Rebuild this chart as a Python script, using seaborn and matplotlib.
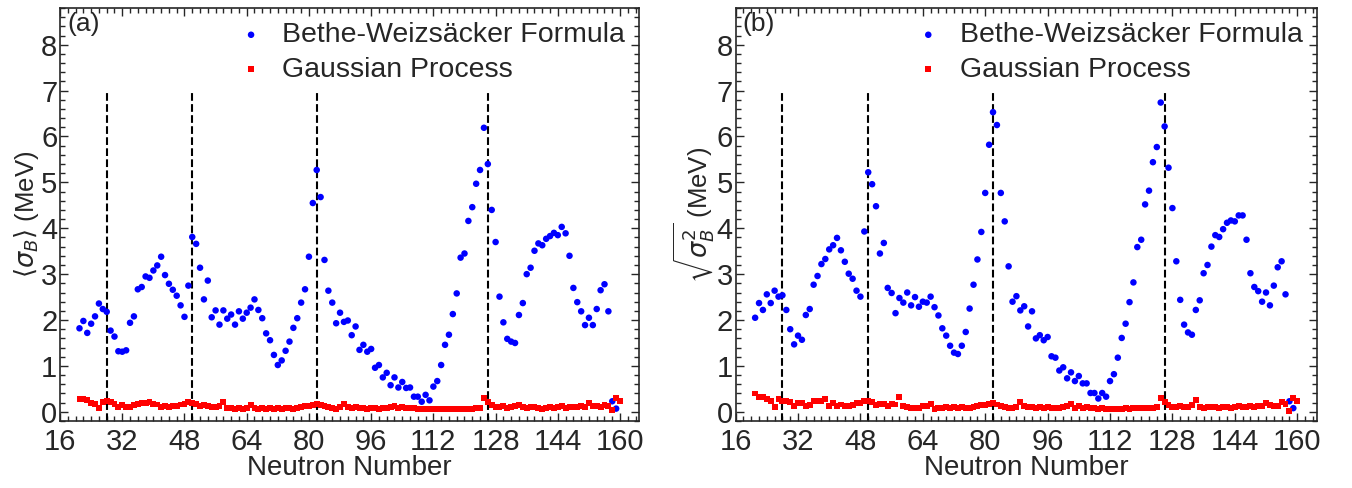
import numpy as np
import pandas as pd
import matplotlib
matplotlib.use('Agg')
import matplotlib.pyplot as plt
import seaborn as sns
from matplotlib.ticker import MultipleLocator

# === DATA ===
N_BW = np.arange(21, 160)
N_GP = np.arange(21, 161)
MAGIC = [28, 50, 82, 126]

BW_MEAN = [1.82, 1.98, 1.72, 1.92, 2.08, 2.36, 2.24, 2.18, 1.77, 1.64,
           1.32, 1.31, 1.34, 1.94, 2.08, 2.67, 2.72, 2.95, 2.92, 3.08,
           3.19, 3.38, 2.98, 2.79, 2.66, 2.53, 2.32, 2.07, 2.75, 3.81,
           3.66, 3.14, 2.45, 2.86, 2.06, 2.21, 1.90, 2.21, 2.03, 2.12,
           1.90, 2.19, 2.03, 2.16, 2.27, 2.45, 2.22, 2.04, 1.71, 1.56,
           1.24, 1.02, 1.12, 1.33, 1.53, 1.83, 2.04, 2.38, 2.67, 3.38,
           4.55, 5.27, 4.68, 3.31, 2.64, 2.38, 1.93, 2.16, 1.96, 1.99,
           1.67, 1.86, 1.35, 1.46, 1.31, 1.37, 0.96, 1.02, 0.75, 0.85,
           0.58, 0.75, 0.53, 0.65, 0.52, 0.53, 0.33, 0.33, 0.22, 0.37,
           0.25, 0.55, 0.67, 1.02, 1.46, 1.68, 2.13, 2.58, 3.36, 3.45,
           4.16, 4.46, 4.97, 5.27, 6.19, 5.40, 4.40, 3.70, 2.51, 1.95,
           1.59, 1.53, 1.50, 2.11, 2.37, 3.00, 3.14, 3.51, 3.67, 3.63,
           3.77, 3.83, 3.90, 3.85, 4.03, 3.89, 3.40, 2.70, 2.39, 2.19,
           1.89, 2.05, 1.89, 2.24, 2.65, 2.78, 2.19, 0.23, 0.07]

GP_MEAN = [0.27, 0.28, 0.25, 0.19, 0.18, 0.09, 0.22, 0.23, 0.21, 0.18,
           0.10, 0.14, 0.11, 0.11, 0.14, 0.18, 0.20, 0.20, 0.21, 0.17,
           0.16, 0.10, 0.12, 0.11, 0.12, 0.13, 0.16, 0.17, 0.21, 0.20,
           0.18, 0.13, 0.15, 0.13, 0.10, 0.10, 0.13, 0.22, 0.08, 0.08,
           0.06, 0.08, 0.07, 0.09, 0.14, 0.08, 0.06, 0.08, 0.07, 0.08,
           0.07, 0.08, 0.07, 0.08, 0.08, 0.07, 0.09, 0.10, 0.12, 0.13,
           0.15, 0.18, 0.15, 0.13, 0.10, 0.08, 0.07, 0.10, 0.17, 0.10,
           0.09, 0.10, 0.08, 0.09, 0.07, 0.09, 0.08, 0.07, 0.08, 0.09,
           0.11, 0.12, 0.08, 0.11, 0.08, 0.09, 0.08, 0.07, 0.06, 0.07,
           0.06, 0.06, 0.06, 0.06, 0.06, 0.06, 0.06, 0.07, 0.06, 0.07,
           0.07, 0.07, 0.08, 0.09, 0.31, 0.21, 0.14, 0.11, 0.11, 0.12,
           0.09, 0.10, 0.13, 0.14, 0.10, 0.09, 0.10, 0.10, 0.09, 0.07,
           0.09, 0.10, 0.08, 0.10, 0.12, 0.09, 0.10, 0.11, 0.10, 0.12,
           0.11, 0.19, 0.13, 0.12, 0.11, 0.15, 0.13, 0.03, 0.30, 0.24]

BW_RMS = [2.05, 2.37, 2.22, 2.56, 2.37, 2.64, 2.51, 2.54, 2.22, 1.80,
          1.47, 1.66, 1.57, 2.11, 2.24, 2.77, 2.96, 3.22, 3.33, 3.54,
          3.63, 3.79, 3.52, 3.27, 3.01, 2.90, 2.64, 2.51, 3.93, 5.22,
          4.96, 4.48, 3.45, 3.68, 2.70, 2.59, 2.15, 2.48, 2.38, 2.60,
          2.32, 2.50, 2.29, 2.40, 2.38, 2.51, 2.28, 2.10, 1.82, 1.66,
          1.44, 1.29, 1.26, 1.44, 1.74, 2.25, 2.77, 3.32, 3.92, 4.77,
          5.82, 6.53, 6.25, 4.77, 4.15, 3.17, 2.40, 2.52, 2.21, 2.30,
          1.86, 2.19, 1.60, 1.67, 1.56, 1.63, 1.21, 1.18, 0.90, 0.97,
          0.73, 0.86, 0.67, 0.78, 0.62, 0.62, 0.41, 0.41, 0.29, 0.41,
          0.33, 0.67, 0.82, 1.18, 1.61, 1.92, 2.39, 2.82, 3.59, 3.75,
          4.52, 4.82, 5.44, 5.77, 6.74, 6.22, 5.32, 4.44, 3.28, 2.44,
          1.90, 1.73, 1.68, 2.22, 2.43, 3.02, 3.20, 3.60, 3.85, 3.81,
          3.98, 4.12, 4.17, 4.15, 4.28, 4.28, 3.75, 3.02, 2.72, 2.63,
          2.40, 2.60, 2.32, 2.75, 3.15, 3.28, 2.56, 0.23, 0.08]

GP_RMS = [0.40, 0.33, 0.32, 0.27, 0.23, 0.11, 0.28, 0.24, 0.23, 0.22,
          0.12, 0.20, 0.19, 0.12, 0.15, 0.24, 0.23, 0.24, 0.28, 0.13,
          0.20, 0.13, 0.16, 0.13, 0.13, 0.14, 0.19, 0.20, 0.24, 0.23,
          0.22, 0.15, 0.18, 0.18, 0.12, 0.18, 0.16, 0.33, 0.12, 0.11,
          0.09, 0.09, 0.09, 0.12, 0.13, 0.18, 0.06, 0.09, 0.08, 0.10,
          0.08, 0.10, 0.09, 0.10, 0.09, 0.08, 0.11, 0.13, 0.15, 0.15,
          0.17, 0.20, 0.16, 0.13, 0.10, 0.09, 0.08, 0.10, 0.22, 0.12,
          0.10, 0.11, 0.09, 0.10, 0.08, 0.10, 0.09, 0.08, 0.09, 0.10,
          0.12, 0.18, 0.09, 0.12, 0.09, 0.10, 0.09, 0.08, 0.07, 0.08,
          0.07, 0.07, 0.07, 0.07, 0.07, 0.08, 0.07, 0.08, 0.08, 0.08,
          0.08, 0.08, 0.09, 0.10, 0.31, 0.21, 0.15, 0.11, 0.11, 0.12,
          0.10, 0.11, 0.14, 0.26, 0.11, 0.09, 0.10, 0.10, 0.10, 0.08,
          0.10, 0.11, 0.09, 0.11, 0.12, 0.10, 0.11, 0.12, 0.10, 0.13,
          0.12, 0.20, 0.14, 0.13, 0.12, 0.22, 0.17, 0.02, 0.31, 0.23]

PANELS = [
    ('(a)', r'$\langle\sigma_B\rangle$ (MeV)', BW_MEAN, GP_MEAN),
    ('(b)', r'$\sqrt{\sigma_B^2}$ (MeV)', BW_RMS, GP_RMS),
]

# === STYLE ===
sns.set_style('ticks')
plt.rcParams['font.family'] = ['Liberation Sans', 'DejaVu Sans']
plt.rcParams['mathtext.fontset'] = 'dejavusans'

fig = plt.figure(figsize=(13.52, 4.88), dpi=100)
axes = [fig.add_axes([0.0444, 0.1373, 0.4286, 0.8463]),
        fig.add_axes([0.5441, 0.1373, 0.4298, 0.8463])]

for ax, (tag, ylab, bw, gp) in zip(axes, PANELS):
    df_bw = pd.DataFrame({'N': N_BW, 'val': bw})
    df_gp = pd.DataFrame({'N': N_GP, 'val': gp})
    sns.scatterplot(data=df_bw, x='N', y='val', ax=ax, color='#0000ff', marker='o',
                    s=22, edgecolor='none', label='Bethe-Weizsäcker Formula', zorder=3)
    sns.scatterplot(data=df_gp, x='N', y='val', ax=ax, color='#ff0000', marker='s',
                    s=18, edgecolor='none', label='Gaussian Process', zorder=4)
    ax.vlines(MAGIC, -0.2, 7.0, colors='k', linestyles='--', lw=1.5, zorder=2)

    ax.set_xlim(16, 165)
    ax.set_ylim(-0.2, 8.8)
    ax.xaxis.set_major_locator(MultipleLocator(16))
    ax.xaxis.set_minor_locator(MultipleLocator(2))
    ax.yaxis.set_major_locator(MultipleLocator(1))
    ax.yaxis.set_minor_locator(MultipleLocator(0.2))
    ax.tick_params(which='both', direction='in', top=True, right=True,
                   labelsize=21, width=1.0, pad=2)
    ax.tick_params(axis='x', which='major', pad=5)
    ax.tick_params(which='major', length=6)
    ax.tick_params(which='minor', length=3.5)
    for sp in ax.spines.values():
        sp.set_linewidth(1.2)

    ax.set_xlabel('Neutron Number', fontsize=20, labelpad=-1)
    ax.set_ylabel(ylab, fontsize=18.5, labelpad=0)
    ax.text(0.012, 0.99, tag, transform=ax.transAxes, fontsize=19,
            ha='left', va='top')
    ax.legend(loc='upper right', frameon=False, fontsize=20.5, markerscale=1.0,
              handletextpad=0.5, borderaxespad=0.1, labelspacing=0.3,
              handlelength=1.2)

fig.savefig('out.png', dpi=100)
